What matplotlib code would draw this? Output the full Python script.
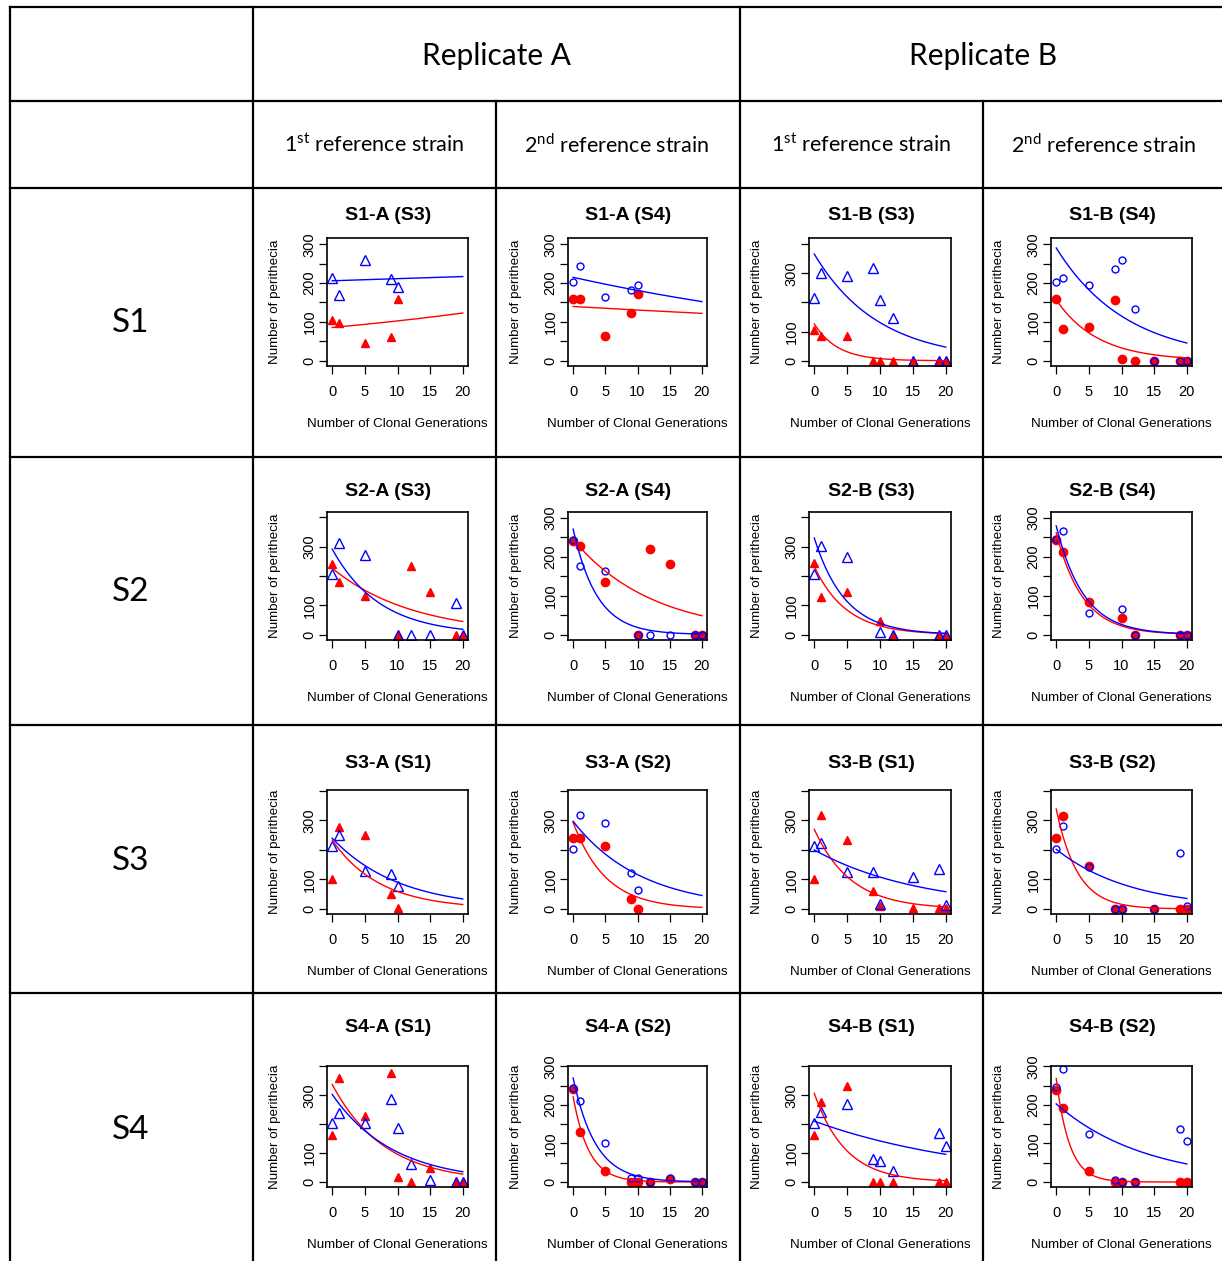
import numpy as np
import matplotlib
matplotlib.use("Agg")
import matplotlib.pyplot as plt
from matplotlib.lines import Line2D

plt.rcParams["font.family"] = ["Liberation Sans", "DejaVu Sans"]
plt.rcParams["mathtext.fontset"] = "custom"
plt.rcParams["mathtext.rm"] = "Lato"

# ---- data: clonal generation vs number of perithecia ----
# blue = open markers, red = filled markers
gen_s1a = [0, 1, 5, 9, 10]
s1a_s3_blue = [213, 170, 259, 211, 189]
s1a_s3_red = [105, 96, 45, 62, 160]
s1a_s4_blue = [202, 244, 163, 183, 195]
s1a_s4_red = [158, 158, 64, 123, 171]

gen_s1b = [0, 1, 5, 9, 10, 12, 15, 19, 20]
s1b_s3_blue = [216, 300, 289, 317, 208, 145, 0, 0, 0]
s1b_s3_red = [107, 85, 85, 0, 0, 0, 0, 0, 0]
s1b_s4_blue = [202, 212, 195, 237, 260, 134, 0, 0, 0]
s1b_s4_red = [158, 81, 87, 155, 5, 0, 0, 0, 0]

gen_s2a = [0, 1, 5, 10, 12, 15, 19, 20]
s2a_s3_blue = [206, 312, 272, 0, 0, 0, 107, 0]
s2a_s3_red = [242, 180, 132, 0, 235, 146, 0, 0]
s2a_s4_blue = [244, 177, 164, 0, 0, 0, 0, 0]
s2a_s4_red = [241, 227, 136, 0, 221, 182, 0, 0]

gen_s2b = [0, 1, 5, 10, 12, 19, 20]
s2b_s3_blue = [206, 303, 265, 10, 0, 0, 0]
s2b_s3_red = [244, 130, 144, 47, 0, 0, 0]
s2b_s4_blue = [245, 265, 56, 66, 0, 0, 0]
s2b_s4_red = [243, 213, 84, 42, 0, 0, 0]

gen_s3a = [0, 1, 5, 9, 10]
s3a_s1_blue = [215, 252, 130, 120, 77]
s3a_s1_red = [102, 278, 249, 51, 2]
s3a_s2_blue = [203, 317, 290, 122, 65]
s3a_s2_red = [241, 241, 215, 34, 0]

gen_s3b = [0, 1, 5, 9, 10, 15, 19, 20]
s3b_s1_blue = [213, 224, 124, 124, 17, 108, 134, 14]
s3b_s1_red = [102, 320, 235, 62, 11, 2, 2, 2]
s3b_s2_blue = [203, 281, 141, 0, 0, 0, 190, 10]
s3b_s2_red = [241, 315, 147, 0, 0, 0, 0, 0]

gen_s4a = [0, 1, 5, 9, 10, 12, 15, 19, 20]
s4a_s1_blue = [205, 237, 203, 286, 186, 63, 6, 2, 2]
s4a_s1_red = [163, 360, 229, 377, 19, 2, 50, 2, 2]
s4a_s2_blue = [245, 210, 102, 10, 10, 0, 10, 0, 0]
s4a_s2_red = [241, 129, 29, 0, 0, 0, 9, 0, 0]

gen_s4b = [0, 1, 5, 9, 10, 12, 19, 20]
s4b_s1_blue = [205, 243, 270, 80, 73, 37, 168, 126]
s4b_s1_red = [163, 277, 332, 2, 2, 2, 2, 2]
s4b_s2_blue = [247, 294, 124, 6, 0, 0, 137, 107]
s4b_s2_red = [240, 193, 29, 0, 0, 0, 0, 0]

titles = ["S1-A (S3)", "S1-A (S4)", "S1-B (S3)", "S1-B (S4)",
          "S2-A (S3)", "S2-A (S4)", "S2-B (S3)", "S2-B (S4)",
          "S3-A (S1)", "S3-A (S2)", "S3-B (S1)", "S3-B (S2)",
          "S4-A (S1)", "S4-A (S2)", "S4-B (S1)", "S4-B (S2)"]
gens = [gen_s1a, gen_s1a, gen_s1b, gen_s1b, gen_s2a, gen_s2a, gen_s2b, gen_s2b,
        gen_s3a, gen_s3a, gen_s3b, gen_s3b, gen_s4a, gen_s4a, gen_s4b, gen_s4b]
blues = [s1a_s3_blue, s1a_s4_blue, s1b_s3_blue, s1b_s4_blue,
         s2a_s3_blue, s2a_s4_blue, s2b_s3_blue, s2b_s4_blue,
         s3a_s1_blue, s3a_s2_blue, s3b_s1_blue, s3b_s2_blue,
         s4a_s1_blue, s4a_s2_blue, s4b_s1_blue, s4b_s2_blue]
reds = [s1a_s3_red, s1a_s4_red, s1b_s3_red, s1b_s4_red,
        s2a_s3_red, s2a_s4_red, s2b_s3_red, s2b_s4_red,
        s3a_s1_red, s3a_s2_red, s3b_s1_red, s3b_s2_red,
        s4a_s1_red, s4a_s2_red, s4b_s1_red, s4b_s2_red]
# y scale of each panel: 300 (ticks every 50) or 400 (ticks every 100)
yscale = [300, 300, 400, 300,
          400, 300, 400, 300,
          400, 400, 400, 400,
          400, 300, 400, 300]

row_labels = ["S1", "S2", "S3", "S4"]
rep_labels = ["Replicate A", "Replicate B"]
strain_labels = ["1$^{\\mathrm{st}}$ reference strain", "2$^{\\mathrm{nd}}$ reference strain"] * 2


def pois_fit(x, y, n_iter=60):
    # Poisson GLM with log link (IRLS)
    x = np.asarray(x, float); y = np.asarray(y, float)
    X = np.column_stack([np.ones_like(x), x])
    beta = np.array([np.log(y.mean()), 0.0])
    for _ in range(n_iter):
        eta = X @ beta
        mu = np.exp(eta)
        z = eta + (y - mu) / mu
        XtW = X.T * mu
        beta = np.linalg.solve(XtW @ X, XtW @ z)
    return beta


# ---- layout in pixels ----
W, H = 1222, 1261
rows_tb = [(238, 366), (512, 640), (790, 914), (1066, 1187)]
cols_lr = [(327, 468), (568, 707), (809, 951), (1051, 1192)]
title_y = [215, 492, 764, 1028]
ylims = {  # per row: scale -> (bottom, top)
    0: {300: (-14, 316), 400: (-18, 421)},
    1: {300: (-14, 315), 400: (-18, 418)},
    2: {300: (-13, 303), 400: (-17, 403)},
    3: {300: (-13, 301), 400: (-17, 401)},
}


def fx(x):
    return x / W


def fy(y):
    return 1 - y / H


fig = plt.figure(figsize=(W / 100, H / 100), dpi=100)

# table grid
lw_tab = 1.6
for y in [7, 101, 188, 457, 725, 993]:
    fig.add_artist(Line2D([fx(10), fx(1222)], [fy(y), fy(y)], color="black", lw=lw_tab))
for x in [10, 253, 740]:
    fig.add_artist(Line2D([fx(x), fx(x)], [fy(7), fy(1261)], color="black", lw=lw_tab))
for x in [496, 983]:
    fig.add_artist(Line2D([fx(x), fx(x)], [fy(101), fy(1261)], color="black", lw=lw_tab))

hdr = ["Lato", "DejaVu Sans"]
for lab, xc in zip(rep_labels, [496, 983]):
    fig.text(fx(xc), fy(56), lab, ha="center", va="center", fontsize=21.5, family=hdr)
for lab, xc in zip(strain_labels, [374, 617, 861, 1104]):
    fig.text(fx(xc), fy(145), lab, ha="center", va="center", fontsize=15.5, family=hdr)
for lab, yc in zip(row_labels, [323, 592, 861, 1130]):
    fig.text(fx(131), fy(yc), lab, ha="center", va="center", fontsize=24, family=hdr)

xgrid = np.linspace(0, 20, 201)
for i in range(16):
    r, c = divmod(i, 4)
    T, B = rows_tb[r]
    L, R = cols_lr[c]
    ax = fig.add_axes([fx(L), fy(B), (R - L) / W, (B - T) / H])
    x = np.asarray(gens[i], float)
    tri = c in (0, 2)
    if tri:
        ax.plot(x, reds[i], "^", color="red", ms=5.5, ls="none")
        ax.plot(x, blues[i], "^", mfc="none", mec="blue", ms=7, mew=1.0, ls="none")
    else:
        ax.plot(x, reds[i], "o", color="red", ms=6, ls="none")
        ax.plot(x, blues[i], "o", mfc="none", mec="blue", ms=5, mew=1.0, ls="none")
    for ys, col in [(reds[i], "red"), (blues[i], "blue")]:
        b0, b1 = pois_fit(x, ys)
        ax.plot(xgrid, np.exp(b0 + b1 * xgrid), color=col, lw=1.0)

    ax.set_xlim(-0.8, 20.8)
    ax.set_ylim(*ylims[r][yscale[i]])
    ax.set_xticks([0, 5, 10, 15, 20])
    if yscale[i] == 300:
        ax.set_yticks(np.arange(0, 301, 50))
        ax.set_yticklabels(["0", "", "100", "", "200", "", "300"], rotation=90, va="center")
    else:
        ax.set_yticks(np.arange(0, 401, 100))
        ax.set_yticklabels(["0", "100", "", "300", ""], rotation=90, va="center")
    ax.tick_params(direction="out", length=5.5, width=0.9, labelsize=10.5)
    ax.tick_params(axis="x", pad=8.5)
    ax.tick_params(axis="y", pad=2)
    for s in ax.spines.values():
        s.set_linewidth(1.2)

    fig.text(fx((L + R) / 2 - 9), fy(title_y[r]), titles[i], ha="center", va="center",
             fontsize=14, fontweight="bold")
    fig.text(fx((L + R) / 2), fy(B + 58), "Number of Clonal Generations",
             ha="center", va="center", fontsize=9.6)
    fig.text(fx(L - 52), fy((T + B) / 2), "Number of perithecia", rotation=90,
             ha="center", va="center", fontsize=9.6)

fig.savefig("out.png", dpi=100)
